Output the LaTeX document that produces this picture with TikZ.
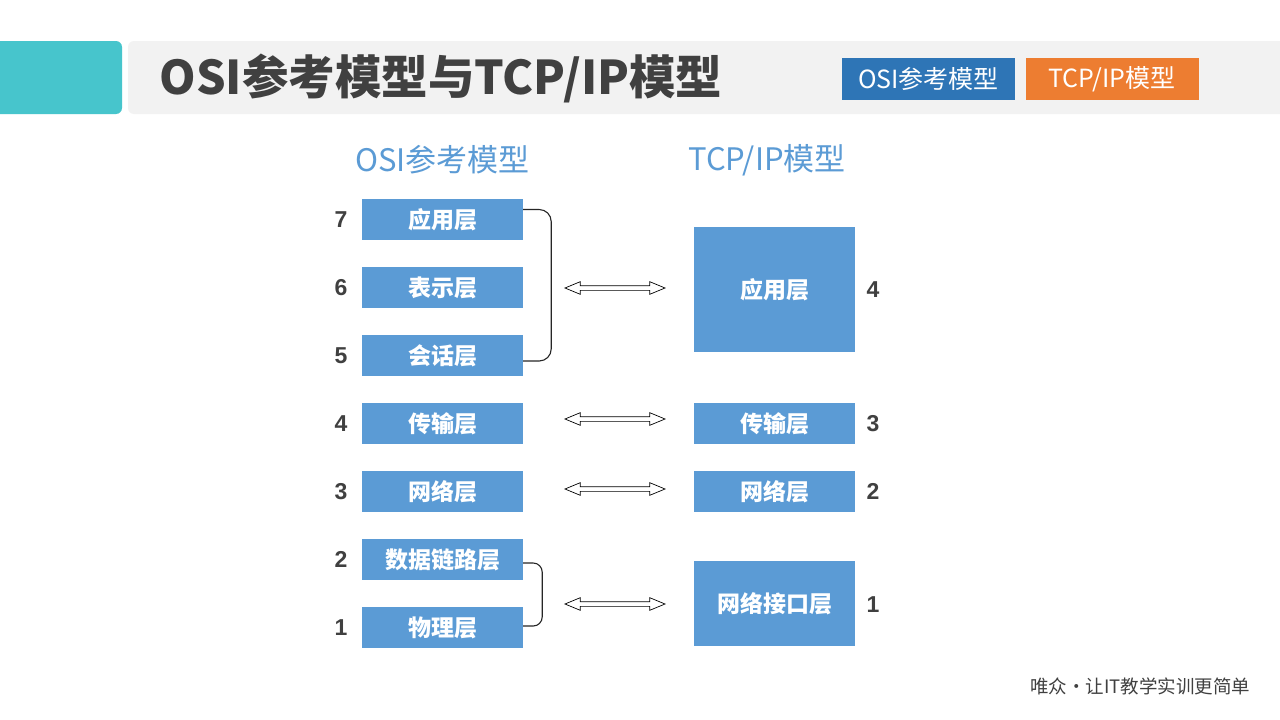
\documentclass[tikz,border=0pt]{standalone}
\usepackage{fontspec}
\setmainfont{Liberation Sans}
\newfontfamily\cjkfont{Noto Sans CJK SC}
\usetikzlibrary{shapes.arrows}

\definecolor{layerblue}{HTML}{5B9BD5}
\definecolor{legendblue}{HTML}{2E75B6}
\definecolor{legendorange}{HTML}{ED7D31}
\definecolor{headteal}{HTML}{47C5CC}
\definecolor{headgray}{HTML}{F2F2F2}
\definecolor{inkgray}{HTML}{404040}

\tikzset{
  layerbox/.style={fill=layerblue,text=white,font=\cjkfont\bfseries\fontsize{23}{23}\selectfont,
    minimum width=161pt,minimum height=41pt,inner sep=0pt},
  layernum/.style={text=inkgray,font=\bfseries\fontsize{23}{23}\selectfont},
  swaparrow/.style={double arrow,draw=black,line width=0.7pt,fill=white,inner sep=2pt,
    double arrow head extend=4pt,double arrow tip angle=45,minimum height=100pt},
  brace/.style={draw=black!85,line width=1.1pt,rounded corners=12pt},
  legendbox/.style={text=white,font=\cjkfont\fontsize{25}{25}\selectfont,
    minimum width=173pt,minimum height=42pt,inner sep=0pt}
}

\begin{document}
\begin{tikzpicture}[x=1pt,y=-1pt]
  \useasboundingbox[fill=white] (0,0) rectangle (1280,720);
  % header bar
  \fill[headteal,rounded corners=6pt] (-10,41) rectangle (122,114);
  \fill[headgray,rounded corners=6pt] (128,41) rectangle (1290,114);
  \node[anchor=west,text=inkgray,font=\cjkfont\bfseries\fontsize{46.5}{46.5}\selectfont] (title) at (156,78) {OSI参考模型与TCP/IP模型};
  \node[legendbox,fill=legendblue] (legosi) at (928.5,79) {OSI参考模型};
  \node[legendbox,fill=legendorange] (legtcp) at (1112,79) {TCP/IP模型};

  % column headings
  \node[text=layerblue,font=\cjkfont\fontsize{31}{31}\selectfont] (osihead) at (442.5,160) {OSI参考模型};
  \node[text=layerblue,font=\cjkfont\fontsize{31}{31}\selectfont] (tcphead) at (767,160) {TCP/IP模型};

  % OSI layers
  \node[layerbox] (osi7) at (442.5,219.5) {应用层};
  \node[layerbox] (osi6) at (442.5,287.5) {表示层};
  \node[layerbox] (osi5) at (442.5,355.5) {会话层};
  \node[layerbox] (osi4) at (442.5,423.5) {传输层};
  \node[layerbox] (osi3) at (442.5,491.5) {网络层};
  \node[layerbox] (osi2) at (442.5,559.5) {数据链路层};
  \node[layerbox] (osi1) at (442.5,627.5) {物理层};
  \foreach \n/\y in {7/219.5,6/287.5,5/355.5,4/423.5,3/491.5,2/559.5,1/627.5}
    \node[layernum] (osinum\n) at (341,\y) {\n};

  % TCP/IP layers
  \node[layerbox,minimum height=125pt] (tcp4) at (774.5,289.5) {应用层};
  \node[layerbox] (tcp3) at (774.5,423.5) {传输层};
  \node[layerbox] (tcp2) at (774.5,491.5) {网络层};
  \node[layerbox,minimum height=85pt] (tcp1) at (774.5,603.5) {网络接口层};
  \node[layernum] (tcpnum4) at (873,289.5) {4};
  \node[layernum] (tcpnum3) at (873,423.5) {3};
  \node[layernum] (tcpnum2) at (873,491.5) {2};
  \node[layernum] (tcpnum1) at (873,605) {1};

  % braces
  \draw[brace] ([yshift=10pt]osi7.east) -- ++(28,0) |- ([yshift=-5.5pt]osi5.east);
  \draw[brace,rounded corners=9pt] ([yshift=-3.5pt]osi2.east) -- ++(19,0) |- ([yshift=1.5pt]osi1.east);

  % mapping arrows
  \node[swaparrow] (map4) at (615,288) {};
  \node[swaparrow] (map3) at (615,419) {};
  \node[swaparrow] (map2) at (615,489) {};
  \node[swaparrow] (map1) at (615,604) {};

  % footer
  \node[text=inkgray,font=\cjkfont\fontsize{18.5}{18.5}\selectfont] (motto) at (1140,686) {唯众•让IT教学实训更简单};
\end{tikzpicture}
\end{document}
